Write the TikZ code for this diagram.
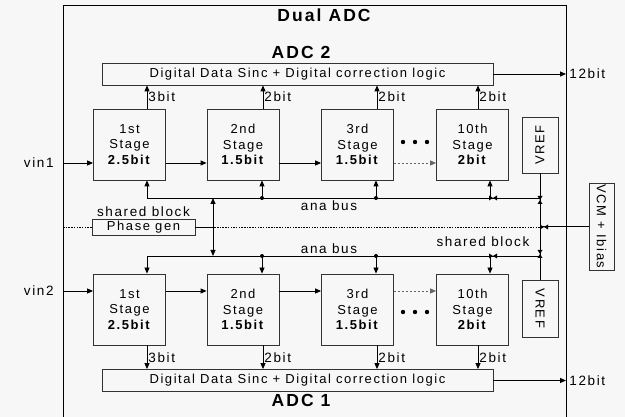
\documentclass[tikz,border=0pt]{standalone}
\usepackage{fontspec}
\setmainfont{Liberation Sans}[LetterSpace=12]
\usetikzlibrary{arrows.meta,positioning,calc}

\begin{document}
\begin{tikzpicture}[
  >={Triangle[length=6pt,width=5pt]},
  x=1pt,
  y=-1pt,
  line width=0.8pt,
  stage/.style={draw=black!80,minimum width=72pt,minimum height=71pt,inner sep=0pt,align=center,font=\fontsize{13}{15.5}\selectfont},
  digbox/.style={draw=black!80,minimum width=391pt,minimum height=22pt,inner sep=0pt,font=\fontsize{13}{15}\selectfont},
  sidebox/.style={draw=black!80,inner sep=0pt,font=\fontsize{13}{15}\selectfont},
  lbl/.style={inner sep=1pt,font=\fontsize{13.5}{15}\selectfont},
  bitlbl/.style={right,inner sep=1pt,font=\fontsize{13.5}{15}\selectfont},
  headtxt/.style={inner sep=0pt,font=\fontsize{17.5}{19}\selectfont\bfseries},
  sig/.style={->},
  dotsig/.style={->,dash pattern=on 2pt off 2pt},
  junc/.style={circle,fill,inner sep=0pt,minimum size=4pt},
  midline/.style={line width=0.6pt,dash pattern=on 1.5pt off 1.2pt},
  hgate/.pic={\fill (-4,-2.5) -- (4,2.5) -- (4,-2.5) -- (-4,2.5) -- cycle;},
  vgate/.pic={\fill (-2.5,-4) -- (2.5,4) -- (-2.5,4) -- (2.5,-4) -- cycle;}
]
  \useasboundingbox[fill=black!3] (0,0) rectangle (625,417);
  \draw (63,417) -- (63,5) -- (566,5) -- (566,417);

  \node[headtxt] (title) at (324,15) {Dual ADC};
  \node[headtxt] (adc2) at (301,52) {ADC 2};
  \node[headtxt] (adc1) at (301,400) {ADC 1};

  \coordinate (bt1) at (147,0);
  \coordinate (bt2) at (263,0);
  \coordinate (bt3) at (377,0);
  \coordinate (bt4) at (478,0);
  \coordinate (an1) at (147,0);
  \coordinate (an2) at (262,0);
  \coordinate (an3) at (376,0);
  \coordinate (an4) at (490,0);
  \coordinate (busA) at (0,198);
  \coordinate (busB) at (0,256);
  \coordinate (pga) at (213,0);

  % ADC 2
  \node[digbox] (dig2) at (297.5,74) {Digital Data Sinc + Digital correction logic};
  \node[stage] (s1) at (129.5,144.5) {1st\\Stage\\\textbf{2.5bit}};
  \node[stage] (s2) at (243,144.5) {2nd\\Stage\\\textbf{1.5bit}};
  \node[stage] (s3) at (357.5,144.5) {3rd\\Stage\\\textbf{1.5bit}};
  \node[stage] (s10) at (472.5,144.5) {10th\\Stage\\\textbf{2bit}};
  \node[sidebox,minimum width=36pt,minimum height=56pt] (vref2) at (540,145) {\rotatebox{90}{VREF}};

  \coordinate (in1) at (63,163);
  \node[lbl,left=8pt of in1] (vin1) {vin1};
  \draw[sig] (in1) -- (s1.west |- in1);
  \draw[sig] (s1.east |- in1) -- (s2.west |- in1);
  \draw[sig] (s2.east |- in1) -- (s3.west |- in1);
  \draw[dotsig,black!60] (s3.east |- in1) -- (s10.west |- in1);
  \node (dots2) at (415,142) {};
  \fill (dots2) circle (2.2) ++(-12,0) circle (2.2) ++(24,0) circle (2.2);

  \draw[sig] (bt1 |- s1.north) -- node[bitlbl] {3bit} (bt1 |- dig2.south);
  \draw[sig] (bt2 |- s2.north) -- node[bitlbl] {2bit} (bt2 |- dig2.south);
  \draw[sig] (bt3 |- s3.north) -- node[bitlbl] {2bit} (bt3 |- dig2.south);
  \draw[sig] (bt4 |- s10.north) -- node[bitlbl] {2bit} (bt4 |- dig2.south);

  \coordinate (out2) at (566,74);
  \draw[sig] (dig2.east) -- (out2);
  \node[lbl,right=2pt of out2] (bits2) {12bit};

  % shared part
  \node[sidebox,minimum width=103pt,minimum height=16pt] (pg) at (143.5,227) {Phase gen};
  \node[lbl,above=1pt of pg] (shl) {shared block};
  \node[sidebox,minimum width=25pt,minimum height=87pt] (vcm) at (601.5,226.5) {\rotatebox{-90}{VCM + Ibias}};
  \node[sidebox,minimum width=36pt,minimum height=57pt] (vref1) at (540,308.5) {\rotatebox{-90}{VREF}};
  \draw[midline] (63,227) -- (pg.west);
  \draw[midline] (pg.east) -- (540,227);
  \draw (pg.east) -- (pga |- pg.east);
  \draw[<->] (pga |- busA) -- (pga |- busB);
  \draw (vref2.south) -- (vref1.north);
  \draw (vcm.west) -- (vref2.south |- vcm.west);
  \pic at (544,227) {hgate};
  \pic at (540,200) {vgate};
  \pic at (540,254) {vgate};

  \draw (an1 |- busA) -- (vref2.south |- busA);
  \draw[sig] (an1 |- busA) -- (an1 |- s1.south);
  \draw[sig] (an2 |- busA) -- (an2 |- s2.south);
  \draw[sig] (an3 |- busA) -- (an3 |- s3.south);
  \draw[sig] (an4 |- busA) -- (an4 |- s10.south);
  \node[junc] (ja2) at (an2 |- busA) {};
  \node[junc] (ja3) at (an3 |- busA) {};
  \pic at (493,198) {hgate};
  \node[lbl] (bus2) at (329,206) {ana bus};

  \draw (an1 |- busB) -- (vref2.south |- busB);
  \node[junc] (jb2) at (an2 |- busB) {};
  \node[junc] (jb3) at (an3 |- busB) {};
  \pic at (493,256) {hgate};
  \node[lbl] (bus1) at (329,249) {ana bus};
  \node[lbl] (shr) at (483,242) {shared block};

  % ADC 1
  \node[stage] (t1) at (129.5,309.5) {1st\\Stage\\\textbf{2.5bit}};
  \node[stage] (t2) at (243,309.5) {2nd\\Stage\\\textbf{1.5bit}};
  \node[stage] (t3) at (357.5,309.5) {3rd\\Stage\\\textbf{1.5bit}};
  \node[stage] (t10) at (472.5,309.5) {10th\\Stage\\\textbf{2bit}};
  \node[digbox] (dig1) at (297.5,380.5) {Digital Data Sinc + Digital correction logic};

  \draw[sig] (an1 |- busB) -- (an1 |- t1.north);
  \draw[sig] (an2 |- busB) -- (an2 |- t2.north);
  \draw[sig] (an3 |- busB) -- (an3 |- t3.north);
  \draw[sig] (an4 |- busB) -- (an4 |- t10.north);

  \coordinate (in2) at (63,291);
  \node[lbl,left=8pt of in2] (vin2) {vin2};
  \draw[sig] (in2) -- (t1.west |- in2);
  \draw[sig] (t1.east |- in2) -- (t2.west |- in2);
  \draw[sig] (t2.east |- in2) -- (t3.west |- in2);
  \draw[dotsig,black!60] (t3.east |- in2) -- (t10.west |- in2);
  \node (dots1) at (415,312) {};
  \fill (dots1) circle (2.2) ++(-12,0) circle (2.2) ++(24,0) circle (2.2);

  \draw[sig] (bt1 |- t1.south) -- node[bitlbl] {3bit} (bt1 |- dig1.north);
  \draw[sig] (bt2 |- t2.south) -- node[bitlbl] {2bit} (bt2 |- dig1.north);
  \draw[sig] (bt3 |- t3.south) -- node[bitlbl] {2bit} (bt3 |- dig1.north);
  \draw[sig] (bt4 |- t10.south) -- node[bitlbl] {2bit} (bt4 |- dig1.north);

  \coordinate (out1) at (566,380.5);
  \draw[sig] (dig1.east) -- (out1);
  \node[lbl,right=2pt of out1] (bits1) {12bit};
\end{tikzpicture}
\end{document}
